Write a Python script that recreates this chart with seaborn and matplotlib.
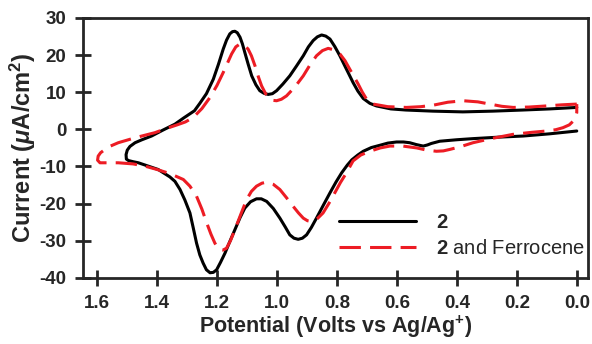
import numpy as np
import pandas as pd
import seaborn as sns
import matplotlib
matplotlib.use("Agg")
import matplotlib.pyplot as plt

# 2 alone, forward scan 0 -> 1.5 V
v_black_fwd = [0.00, 0.09, 0.18, 0.28, 0.38, 0.48, 0.57, 0.62, 0.668, 0.69, 0.712, 0.73, 0.746,
               0.757, 0.773, 0.79, 0.807, 0.823, 0.837, 0.851, 0.865, 0.879, 0.895, 0.912, 0.935,
               0.957, 0.98, 1.001, 1.015, 1.029, 1.043, 1.057, 1.07, 1.084, 1.096, 1.107, 1.115,
               1.123, 1.132, 1.14, 1.148, 1.157, 1.168, 1.179, 1.195, 1.212, 1.235, 1.257, 1.275,
               1.312, 1.34, 1.38, 1.418, 1.45, 1.473, 1.49, 1.499, 1.503]
i_black_fwd = [5.9, 5.5, 5.2, 4.9, 4.7, 4.9, 5.2, 5.5, 6.3, 7.0, 8.3, 10.3, 12.6,
               14.4, 17.0, 19.8, 22.3, 24.3, 25.1, 25.4, 24.9, 23.9, 22.2, 19.8, 17.0,
               14.4, 12.2, 10.4, 9.6, 9.4, 9.7, 10.4, 12.0, 14.4, 17.6, 20.7, 23.0,
               24.8, 26.0, 26.4, 26.3, 25.7, 24.0, 21.6, 17.5, 13.5, 9.6, 7.0, 5.0,
               3.0, 1.4, -0.2, -1.8, -2.8, -3.6, -4.6, -5.6, -6.8]
# 2 alone, reverse scan 1.5 -> 0 V
v_black_rev = [1.502, 1.495, 1.48, 1.462, 1.396, 1.357, 1.34, 1.323, 1.307, 1.29, 1.279, 1.268,
               1.257, 1.246, 1.235, 1.223, 1.212, 1.201, 1.188, 1.173, 1.157, 1.14, 1.123, 1.107,
               1.088, 1.068, 1.052, 1.034, 1.012, 0.99, 0.972, 0.957, 0.943, 0.929, 0.915, 0.901,
               0.885, 0.868, 0.845, 0.823, 0.803, 0.784, 0.765, 0.75, 0.73, 0.712, 0.685, 0.657,
               0.63, 0.601, 0.578, 0.557, 0.535, 0.512, 0.498, 0.485, 0.457, 0.40, 0.346, 0.26,
               0.179, 0.09, 0.00]
i_black_rev = [-8.0, -8.4, -8.7, -9.0, -10.8, -12.8, -14.0, -16.2, -19.0, -22.5, -26.5, -30.6,
               -33.8, -36.0, -37.8, -38.6, -38.5, -37.8, -35.8, -33.3, -30.2, -27.0, -23.8, -21.2,
               -19.5, -18.7, -18.7, -19.4, -21.3, -23.9, -26.3, -28.4, -29.3, -29.6, -29.3, -28.4,
               -26.4, -23.9, -20.4, -17.1, -14.2, -11.7, -9.6, -8.2, -6.9, -5.9, -4.9, -4.3,
               -3.7, -3.4, -3.4, -3.6, -4.1, -4.5, -4.2, -3.8, -3.2, -2.8, -2.5, -2.1,
               -1.8, -1.2, -0.45]

# 2 and ferrocene, forward scan 0 -> 1.6 V
v_red_fwd = [0.00, 0.05, 0.101, 0.16, 0.212, 0.25, 0.29, 0.33, 0.379, 0.43, 0.479, 0.52, 0.568,
             0.63, 0.679, 0.70, 0.715, 0.729, 0.743, 0.757, 0.773, 0.79, 0.81, 0.829, 0.848,
             0.868, 0.89, 0.912, 0.94, 0.968, 0.985, 1.001, 1.013, 1.023, 1.037, 1.051, 1.062,
             1.073, 1.085, 1.096, 1.11, 1.123, 1.137, 1.151, 1.165, 1.179, 1.2, 1.223, 1.25,
             1.279, 1.305, 1.333, 1.37, 1.407, 1.47, 1.529, 1.555, 1.573, 1.588, 1.596, 1.598]
i_red_fwd = [6.8, 6.6, 6.3, 6.0, 5.9, 6.2, 6.8, 7.4, 7.7, 7.3, 6.5, 6.1, 5.9,
             6.1, 6.8, 8.0, 10.0, 12.2, 14.2, 16.2, 18.5, 20.3, 21.4, 21.8, 21.2,
             19.8, 17.3, 14.4, 11.4, 9.0, 8.1, 7.7, 7.8, 8.1, 9.5, 11.7, 14.2,
             17.1, 19.8, 21.6, 22.7, 23.0, 22.2, 20.3, 17.8, 15.3, 11.8, 8.6, 5.6,
             3.2, 2.0, 1.2, 0.2, -0.9, -2.2, -3.6, -4.5, -5.4, -6.3, -7.2, -8.3]
# 2 and ferrocene, reverse scan 1.6 -> 0 V
v_red_rev = [1.59, 1.529, 1.48, 1.44, 1.40, 1.357, 1.312, 1.29, 1.268, 1.25, 1.234, 1.22,
             1.207, 1.198, 1.19, 1.18, 1.168, 1.155, 1.14, 1.12, 1.101, 1.085, 1.068, 1.05,
             1.034, 1.012, 0.99, 0.968, 0.946, 0.928, 0.912, 0.898, 0.884, 0.866, 0.846, 0.827,
             0.807, 0.788, 0.768, 0.746, 0.72, 0.69, 0.655, 0.623, 0.58, 0.534, 0.50, 0.468,
             0.445, 0.423, 0.385, 0.346, 0.28, 0.213, 0.15, 0.101, 0.07, 0.046, 0.025, 0.012,
             0.004, 0.00, 0.00]
i_red_rev = [-9.0, -9.0, -9.3, -9.9, -10.8, -11.9, -13.5, -15.3, -18.0, -21.5, -25.2, -28.2,
             -30.6, -31.8, -32.4, -32.5, -32.0, -30.0, -27.0, -22.8, -18.9, -16.7, -15.3, -14.5,
             -14.2, -14.8, -16.2, -18.4, -20.7, -22.5, -23.9, -24.6, -24.8, -24.1, -22.5, -20.0,
             -17.1, -14.3, -11.7, -8.5, -6.9, -5.9, -5.0, -4.5, -4.5, -5.0, -5.6, -5.9,
             -5.8, -5.4, -4.6, -3.6, -2.4, -1.35, -0.8, -0.45, -0.1, 0.45, 1.2, 2.2,
             3.3, 4.5, 6.8]

x_ticks = [1.6, 1.4, 1.2, 1.0, 0.8, 0.6, 0.4, 0.2, 0.0]
y_ticks = [30, 20, 10, 0, -10, -20, -30, -40]

sns.set_style("ticks")
plt.rcParams['font.family'] = ['Liberation Sans', 'DejaVu Sans']
plt.rcParams['mathtext.fontset'] = 'custom'
plt.rcParams['mathtext.rm'] = 'Liberation Sans'
plt.rcParams['mathtext.bf'] = 'Liberation Sans:bold'
plt.rcParams['mathtext.it'] = 'Liberation Sans:bold:italic'

fig = plt.figure(figsize=(5.92, 3.44), dpi=100)
ax = fig.add_axes([0.140, 0.192, 0.853, 0.756])

df_black = pd.DataFrame({'V': v_black_fwd + v_black_rev, 'I': i_black_fwd + i_black_rev})
df_red = pd.DataFrame({'V': v_red_fwd + v_red_rev, 'I': i_red_fwd + i_red_rev})

sns.lineplot(data=df_black, x='V', y='I', sort=False, estimator=None, ax=ax,
             color='black', linewidth=2.2, label=r'$\mathbf{2}$')
sns.lineplot(data=df_red, x='V', y='I', sort=False, estimator=None, ax=ax,
             color='#ed1c24', linewidth=2.2, label=r'$\mathbf{2}$ and Ferrocene')
ax.lines[0].set_solid_joinstyle('round')
ax.lines[1].set_dashes((7, 3))
ax.lines[1].set_dash_joinstyle('round')

ax.set_xlim(1.647, -0.037)
ax.set_ylim(-40, 30)
ax.set_xticks(x_ticks)
ax.set_yticks(y_ticks)
ax.set_xticklabels([f"{t:.1f}" for t in x_ticks], fontsize=13.5, fontweight='bold')
ax.set_yticklabels([str(t) for t in y_ticks], fontsize=13.5, fontweight='bold')
ax.tick_params(direction='inout', length=12, width=2, pad=6)
for s in ax.spines.values():
    s.set_linewidth(2)
    s.set_visible(True)

ax.set_xlabel(r'Potential (Volts vs Ag/Ag$^{\mathbf{+}}$)', fontsize=15.5, fontweight='bold', labelpad=1)
ax.set_ylabel(r'Current ($\mu$A/cm$^{\mathbf{2}}$)', fontsize=17, fontweight='bold', labelpad=1)

leg = ax.legend(loc='lower right', bbox_to_anchor=(0.994, 0.077), frameon=False, fontsize=14.5,
                handlelength=3.8, handletextpad=1.0, borderpad=0, borderaxespad=0, labelspacing=0.35)

fig.savefig('out.png', dpi=100)
